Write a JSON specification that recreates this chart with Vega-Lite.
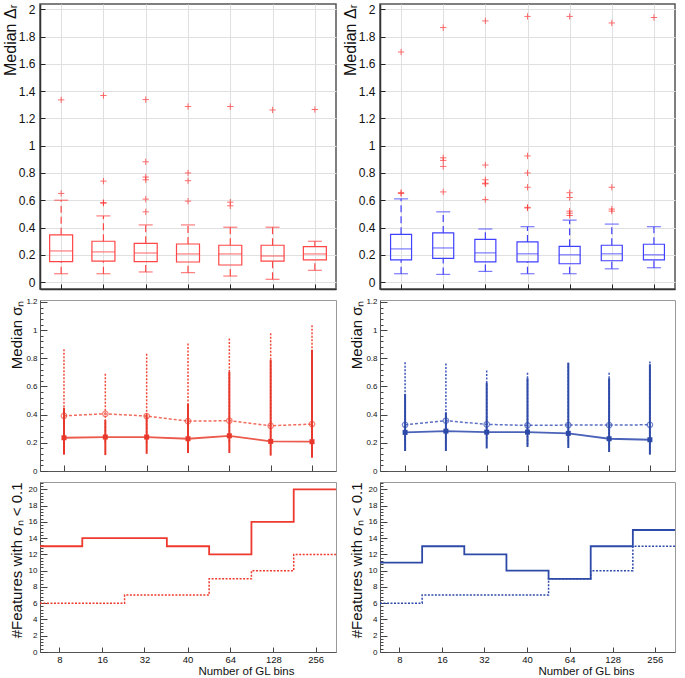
{
 "$schema": "https://vega.github.io/schema/vega-lite/v6.json",
 "padding": {"left": 1, "top": 2, "right": 0, "bottom": 0},
 "config": {"font": "Liberation Sans", "axis": {"labelFont": "Liberation Sans", "titleFont": "Liberation Sans", "labelColor": "#111", "titleColor": "#111", "titleFontWeight": "normal", "labelOverlap": false, "tickCount": 200}},
 "datasets": {
  "box": [
   {"panel": "L", "bins": "8", "lo": 0.061, "q1": 0.15, "med": 0.228, "q3": 0.346, "hi": 0.6},
   {"panel": "L", "bins": "16", "lo": 0.061, "q1": 0.154, "med": 0.221, "q3": 0.299, "hi": 0.485},
   {"panel": "L", "bins": "32", "lo": 0.074, "q1": 0.15, "med": 0.213, "q3": 0.284, "hi": 0.419},
   {"panel": "L", "bins": "40", "lo": 0.069, "q1": 0.147, "med": 0.206, "q3": 0.279, "hi": 0.419},
   {"panel": "L", "bins": "64", "lo": 0.044, "q1": 0.125, "med": 0.206, "q3": 0.27, "hi": 0.402},
   {"panel": "L", "bins": "128", "lo": 0.02, "q1": 0.154, "med": 0.191, "q3": 0.27, "hi": 0.402},
   {"panel": "L", "bins": "256", "lo": 0.086, "q1": 0.162, "med": 0.206, "q3": 0.26, "hi": 0.299},
   {"panel": "R", "bins": "8", "lo": 0.061, "q1": 0.163, "med": 0.243, "q3": 0.35, "hi": 0.61},
   {"panel": "R", "bins": "16", "lo": 0.056, "q1": 0.173, "med": 0.25, "q3": 0.36, "hi": 0.515},
   {"panel": "R", "bins": "32", "lo": 0.078, "q1": 0.148, "med": 0.214, "q3": 0.313, "hi": 0.389},
   {"panel": "R", "bins": "40", "lo": 0.061, "q1": 0.148, "med": 0.207, "q3": 0.294, "hi": 0.406},
   {"panel": "R", "bins": "64", "lo": 0.061, "q1": 0.134, "med": 0.2, "q3": 0.262, "hi": 0.454},
   {"panel": "R", "bins": "128", "lo": 0.097, "q1": 0.156, "med": 0.207, "q3": 0.27, "hi": 0.425},
   {"panel": "R", "bins": "256", "lo": 0.105, "q1": 0.163, "med": 0.2, "q3": 0.277, "hi": 0.406}
  ],
  "out": [
   {"panel": "L", "bins": "8", "v": 0.65}, {"panel": "L", "bins": "8", "v": 1.336},
   {"panel": "L", "bins": "16", "v": 1.368}, {"panel": "L", "bins": "16", "v": 0.74}, {"panel": "L", "bins": "16", "v": 0.583}, {"panel": "L", "bins": "16", "v": 0.578},
   {"panel": "L", "bins": "32", "v": 1.338}, {"panel": "L", "bins": "32", "v": 0.882}, {"panel": "L", "bins": "32", "v": 0.77}, {"panel": "L", "bins": "32", "v": 0.75}, {"panel": "L", "bins": "32", "v": 0.608}, {"panel": "L", "bins": "32", "v": 0.515},
   {"panel": "L", "bins": "40", "v": 1.287}, {"panel": "L", "bins": "40", "v": 0.8}, {"panel": "L", "bins": "40", "v": 0.743}, {"panel": "L", "bins": "40", "v": 0.593},
   {"panel": "L", "bins": "64", "v": 1.287}, {"panel": "L", "bins": "64", "v": 0.586}, {"panel": "L", "bins": "64", "v": 0.559},
   {"panel": "L", "bins": "128", "v": 1.262},
   {"panel": "L", "bins": "256", "v": 1.265},
   {"panel": "R", "bins": "8", "v": 1.687}, {"panel": "R", "bins": "8", "v": 0.656}, {"panel": "R", "bins": "8", "v": 0.649},
   {"panel": "R", "bins": "16", "v": 1.866}, {"panel": "R", "bins": "16", "v": 0.911}, {"panel": "R", "bins": "16", "v": 0.892}, {"panel": "R", "bins": "16", "v": 0.848}, {"panel": "R", "bins": "16", "v": 0.661},
   {"panel": "R", "bins": "32", "v": 1.915}, {"panel": "R", "bins": "32", "v": 0.858}, {"panel": "R", "bins": "32", "v": 0.75}, {"panel": "R", "bins": "32", "v": 0.725}, {"panel": "R", "bins": "32", "v": 0.72}, {"panel": "R", "bins": "32", "v": 0.605},
   {"panel": "R", "bins": "40", "v": 1.948}, {"panel": "R", "bins": "40", "v": 0.925}, {"panel": "R", "bins": "40", "v": 0.8}, {"panel": "R", "bins": "40", "v": 0.695}, {"panel": "R", "bins": "40", "v": 0.548}, {"panel": "R", "bins": "40", "v": 0.543},
   {"panel": "R", "bins": "64", "v": 1.948}, {"panel": "R", "bins": "64", "v": 0.655}, {"panel": "R", "bins": "64", "v": 0.62}, {"panel": "R", "bins": "64", "v": 0.52}, {"panel": "R", "bins": "64", "v": 0.505}, {"panel": "R", "bins": "64", "v": 0.488},
   {"panel": "R", "bins": "128", "v": 1.9}, {"panel": "R", "bins": "128", "v": 0.695}, {"panel": "R", "bins": "128", "v": 0.535}, {"panel": "R", "bins": "128", "v": 0.52},
   {"panel": "R", "bins": "256", "v": 1.94}
  ],
  "med": [
   {"panel": "L", "bins": "8", "series": "solid", "m": 0.236, "lo": 0.116, "hi": 0.449},
   {"panel": "L", "bins": "16", "series": "solid", "m": 0.241, "lo": 0.113, "hi": 0.361},
   {"panel": "L", "bins": "32", "series": "solid", "m": 0.241, "lo": 0.122, "hi": 0.4},
   {"panel": "L", "bins": "40", "series": "solid", "m": 0.229, "lo": 0.128, "hi": 0.475},
   {"panel": "L", "bins": "64", "series": "solid", "m": 0.25, "lo": 0.128, "hi": 0.704},
   {"panel": "L", "bins": "128", "series": "solid", "m": 0.21, "lo": 0.109, "hi": 0.789},
   {"panel": "L", "bins": "256", "series": "solid", "m": 0.208, "lo": 0.094, "hi": 0.86},
   {"panel": "L", "bins": "8", "series": "dotted", "m": 0.392, "lo": 0.18, "hi": 0.865},
   {"panel": "L", "bins": "16", "series": "dotted", "m": 0.406, "lo": 0.2, "hi": 0.69},
   {"panel": "L", "bins": "32", "series": "dotted", "m": 0.39, "lo": 0.19, "hi": 0.832},
   {"panel": "L", "bins": "40", "series": "dotted", "m": 0.354, "lo": 0.19, "hi": 0.905},
   {"panel": "L", "bins": "64", "series": "dotted", "m": 0.357, "lo": 0.2, "hi": 0.94},
   {"panel": "L", "bins": "128", "series": "dotted", "m": 0.321, "lo": 0.18, "hi": 0.978},
   {"panel": "L", "bins": "256", "series": "dotted", "m": 0.333, "lo": 0.17, "hi": 1.035},
   {"panel": "R", "bins": "8", "series": "solid", "m": 0.274, "lo": 0.142, "hi": 0.546},
   {"panel": "R", "bins": "16", "series": "solid", "m": 0.283, "lo": 0.142, "hi": 0.416},
   {"panel": "R", "bins": "32", "series": "solid", "m": 0.276, "lo": 0.16, "hi": 0.626},
   {"panel": "R", "bins": "40", "series": "solid", "m": 0.276, "lo": 0.17, "hi": 0.659},
   {"panel": "R", "bins": "64", "series": "solid", "m": 0.267, "lo": 0.163, "hi": 0.768},
   {"panel": "R", "bins": "128", "series": "solid", "m": 0.229, "lo": 0.135, "hi": 0.659},
   {"panel": "R", "bins": "256", "series": "solid", "m": 0.222, "lo": 0.116, "hi": 0.758},
   {"panel": "R", "bins": "8", "series": "dotted", "m": 0.328, "lo": 0.19, "hi": 0.772},
   {"panel": "R", "bins": "16", "series": "dotted", "m": 0.357, "lo": 0.2, "hi": 0.763},
   {"panel": "R", "bins": "32", "series": "dotted", "m": 0.331, "lo": 0.215, "hi": 0.713},
   {"panel": "R", "bins": "40", "series": "dotted", "m": 0.324, "lo": 0.175, "hi": 0.697},
   {"panel": "R", "bins": "64", "series": "dotted", "m": 0.326, "lo": 0.19, "hi": 0.768},
   {"panel": "R", "bins": "128", "series": "dotted", "m": 0.326, "lo": 0.18, "hi": 0.697},
   {"panel": "R", "bins": "256", "series": "dotted", "m": 0.328, "lo": 0.19, "hi": 0.777}
  ],
  "hist": [
   {"panel": "L", "series": "solid", "edge": 0, "n": 13}, {"panel": "L", "series": "solid", "edge": 1, "n": 14}, {"panel": "L", "series": "solid", "edge": 2, "n": 14}, {"panel": "L", "series": "solid", "edge": 3, "n": 13}, {"panel": "L", "series": "solid", "edge": 4, "n": 12}, {"panel": "L", "series": "solid", "edge": 5, "n": 16}, {"panel": "L", "series": "solid", "edge": 6, "n": 20}, {"panel": "L", "series": "solid", "edge": 7, "n": 20},
   {"panel": "L", "series": "dotted", "edge": 0, "n": 6}, {"panel": "L", "series": "dotted", "edge": 1, "n": 6}, {"panel": "L", "series": "dotted", "edge": 2, "n": 7}, {"panel": "L", "series": "dotted", "edge": 3, "n": 7}, {"panel": "L", "series": "dotted", "edge": 4, "n": 9}, {"panel": "L", "series": "dotted", "edge": 5, "n": 10}, {"panel": "L", "series": "dotted", "edge": 6, "n": 12}, {"panel": "L", "series": "dotted", "edge": 7, "n": 12},
   {"panel": "R", "series": "solid", "edge": 0, "n": 11}, {"panel": "R", "series": "solid", "edge": 1, "n": 13}, {"panel": "R", "series": "solid", "edge": 2, "n": 12}, {"panel": "R", "series": "solid", "edge": 3, "n": 10}, {"panel": "R", "series": "solid", "edge": 4, "n": 9}, {"panel": "R", "series": "solid", "edge": 5, "n": 13}, {"panel": "R", "series": "solid", "edge": 6, "n": 15}, {"panel": "R", "series": "solid", "edge": 7, "n": 15},
   {"panel": "R", "series": "dotted", "edge": 0, "n": 6}, {"panel": "R", "series": "dotted", "edge": 1, "n": 7}, {"panel": "R", "series": "dotted", "edge": 2, "n": 7}, {"panel": "R", "series": "dotted", "edge": 3, "n": 7}, {"panel": "R", "series": "dotted", "edge": 4, "n": 9}, {"panel": "R", "series": "dotted", "edge": 5, "n": 10}, {"panel": "R", "series": "dotted", "edge": 6, "n": 13}, {"panel": "R", "series": "dotted", "edge": 7, "n": 13}
  ]
 },
 "columns": 2,
 "spacing": {"row": 11, "column": 44},
 "bounds": "flush",
 "concat": [
  {
   "width": 296, "height": 285,
   "view": {"stroke": "#555", "strokeWidth": 1.5},
   "layer": [
    {"data": {"name": "box"}, "transform": [{"filter": "datum.panel == 'L'"}],
     "mark": {"type": "rule", "color": "#ff4545", "strokeDash": [7, 4], "strokeWidth": 1.2},
     "encoding": {
      "x": {"field": "bins", "type": "ordinal", "scale": {"type": "point", "padding": 0.5, "domain": ["8", "16", "32", "40", "64", "128", "256"]},
            "axis": {"title": null, "labels": false, "grid": true, "gridColor": "#e0e0e0", "tickSize": -5, "tickColor": "#222", "domainColor": "#333", "domainWidth": 1.5}},
      "y": {"field": "q3", "type": "quantitative", "scale": {"domain": [-0.051, 2.039], "nice": false, "zero": false},
            "axis": {"title": "Median Δᵣ", "values": [0, 0.2, 0.4, 0.6, 0.8, 1, 1.2, 1.4, 1.6, 1.8, 2], "tickCount": 200, "labelExpr": "format(datum.value, '~g')", "labelOverlap": false, "grid": true, "gridColor": "#e0e0e0", "tickSize": -5, "tickColor": "#222", "labelPadding": 10, "labelFontSize": 12, "titleFontSize": 16, "titleAnchor": "end", "titleAngle": -90, "titleX": -30, "titleY": 0, "titleAlign": "right", "titleBaseline": "middle", "domainColor": "#333", "domainWidth": 1.5}},
      "y2": {"field": "hi"}}},
    {"data": {"name": "box"}, "transform": [{"filter": "datum.panel == 'L'"}],
     "mark": {"type": "rule", "color": "#ff4545", "strokeDash": [7, 4], "strokeWidth": 1.2},
     "encoding": {"x": {"field": "bins", "type": "ordinal"}, "y": {"field": "lo", "type": "quantitative"}, "y2": {"field": "q1"}}},
    {"data": {"name": "box"}, "transform": [{"filter": "datum.panel == 'L'"}],
     "mark": {"type": "bar", "filled": false, "color": "#ff4545", "width": 23, "strokeWidth": 1.2},
     "encoding": {"x": {"field": "bins", "type": "ordinal"}, "y": {"field": "q1", "type": "quantitative"}, "y2": {"field": "q3"}}},
    {"data": {"name": "box"}, "transform": [{"filter": "datum.panel == 'L'"}],
     "mark": {"type": "tick", "color": "#ff4545", "size": 23, "thickness": 1.2},
     "encoding": {"x": {"field": "bins", "type": "ordinal"}, "y": {"field": "med", "type": "quantitative"}}},
    {"data": {"name": "box"}, "transform": [{"filter": "datum.panel == 'L'"}],
     "mark": {"type": "tick", "color": "#ff4545", "size": 14, "thickness": 1.2},
     "encoding": {"x": {"field": "bins", "type": "ordinal"}, "y": {"field": "hi", "type": "quantitative"}}},
    {"data": {"name": "box"}, "transform": [{"filter": "datum.panel == 'L'"}],
     "mark": {"type": "tick", "color": "#ff4545", "size": 14, "thickness": 1.2},
     "encoding": {"x": {"field": "bins", "type": "ordinal"}, "y": {"field": "lo", "type": "quantitative"}}},
    {"data": {"name": "out"}, "transform": [{"filter": "datum.panel == 'L'"}],
     "mark": {"type": "point", "shape": "M-1,0H1M0,-1V1", "filled": false, "color": "#ff3030", "size": 40, "strokeWidth": 1},
     "encoding": {"x": {"field": "bins", "type": "ordinal"}, "y": {"field": "v", "type": "quantitative"}}}
   ]
  },
  {
   "width": 295, "height": 285,
   "view": {"stroke": "#555", "strokeWidth": 1.5},
   "layer": [
    {"data": {"name": "box"}, "transform": [{"filter": "datum.panel == 'R'"}],
     "mark": {"type": "rule", "color": "#4040ff", "strokeDash": [7, 4], "strokeWidth": 1.2},
     "encoding": {
      "x": {"field": "bins", "type": "ordinal", "scale": {"type": "point", "padding": 0.5, "domain": ["8", "16", "32", "40", "64", "128", "256"]},
            "axis": {"title": null, "labels": false, "grid": true, "gridColor": "#e0e0e0", "tickSize": -5, "tickColor": "#222", "domainColor": "#333", "domainWidth": 1.5}},
      "y": {"field": "q3", "type": "quantitative", "scale": {"domain": [-0.051, 2.039], "nice": false, "zero": false},
            "axis": {"title": "Median Δᵣ", "values": [0, 0.2, 0.4, 0.6, 0.8, 1, 1.2, 1.4, 1.6, 1.8, 2], "tickCount": 200, "labelExpr": "format(datum.value, '~g')", "labelOverlap": false, "grid": true, "gridColor": "#e0e0e0", "tickSize": -5, "tickColor": "#222", "labelPadding": 10, "labelFontSize": 12, "titleFontSize": 16, "titleAnchor": "end", "titleAngle": -90, "titleX": -30, "titleY": 0, "titleAlign": "right", "titleBaseline": "middle", "domainColor": "#333", "domainWidth": 1.5}},
      "y2": {"field": "hi"}}},
    {"data": {"name": "box"}, "transform": [{"filter": "datum.panel == 'R'"}],
     "mark": {"type": "rule", "color": "#4040ff", "strokeDash": [7, 4], "strokeWidth": 1.2},
     "encoding": {"x": {"field": "bins", "type": "ordinal"}, "y": {"field": "lo", "type": "quantitative"}, "y2": {"field": "q1"}}},
    {"data": {"name": "box"}, "transform": [{"filter": "datum.panel == 'R'"}],
     "mark": {"type": "bar", "filled": false, "color": "#4040ff", "width": 21, "strokeWidth": 1.2},
     "encoding": {"x": {"field": "bins", "type": "ordinal"}, "y": {"field": "q1", "type": "quantitative"}, "y2": {"field": "q3"}}},
    {"data": {"name": "box"}, "transform": [{"filter": "datum.panel == 'R'"}],
     "mark": {"type": "tick", "color": "#4040ff", "size": 21, "thickness": 1.2},
     "encoding": {"x": {"field": "bins", "type": "ordinal"}, "y": {"field": "med", "type": "quantitative"}}},
    {"data": {"name": "box"}, "transform": [{"filter": "datum.panel == 'R'"}],
     "mark": {"type": "tick", "color": "#4040ff", "size": 14, "thickness": 1.2},
     "encoding": {"x": {"field": "bins", "type": "ordinal"}, "y": {"field": "hi", "type": "quantitative"}}},
    {"data": {"name": "box"}, "transform": [{"filter": "datum.panel == 'R'"}],
     "mark": {"type": "tick", "color": "#4040ff", "size": 14, "thickness": 1.2},
     "encoding": {"x": {"field": "bins", "type": "ordinal"}, "y": {"field": "lo", "type": "quantitative"}}},
    {"data": {"name": "out"}, "transform": [{"filter": "datum.panel == 'R'"}],
     "mark": {"type": "point", "shape": "M-1,0H1M0,-1V1", "filled": false, "color": "#ff3030", "size": 40, "strokeWidth": 1},
     "encoding": {"x": {"field": "bins", "type": "ordinal"}, "y": {"field": "v", "type": "quantitative"}}}
   ]
  },
  {
   "width": 296, "height": 171,
   "view": {"stroke": "#999", "strokeWidth": 1},
   "layer": [
    {"data": {"name": "med"}, "transform": [{"filter": "datum.panel == 'L' && datum.series == 'dotted'"}],
     "mark": {"type": "rule", "color": "#f04a3a", "strokeDash": [2, 1.5], "strokeWidth": 1.5},
     "encoding": {
      "x": {"field": "bins", "type": "ordinal", "scale": {"type": "point", "padding": 0.58, "domain": ["8", "16", "32", "40", "64", "128", "256"]},
            "axis": {"title": null, "labels": false, "grid": false, "tickSize": -6, "tickColor": "#444", "domainColor": "#555"}},
      "y": {"field": "hi", "type": "quantitative", "scale": {"domain": [0, 1.214], "nice": false},
            "axis": {"title": "Median σₙ", "values": [0, 0.04, 0.08, 0.12, 0.16, 0.2, 0.24, 0.28, 0.32, 0.36, 0.4, 0.44, 0.48, 0.52, 0.56, 0.6, 0.64, 0.68, 0.72, 0.76, 0.8, 0.84, 0.88, 0.92, 0.96, 1, 1.04, 1.08, 1.12, 1.16, 1.2], "tickCount": 200,
                     "labelExpr": "abs(datum.value*5 - round(datum.value*5)) < 0.01 ? format(datum.value, '~g') : ''", "labelOverlap": false,
                     "tickSize": {"condition": {"test": "abs(datum.value*5 - round(datum.value*5)) < 0.01", "value": -7}, "value": -3},
                     "tickColor": "#444", "labelPadding": 10, "labelFontSize": 8, "titleFontSize": 15, "titleAnchor": "end", "titleAngle": -90, "titleX": -24, "titleY": 0, "titleAlign": "right", "titleBaseline": "middle", "domainColor": "#555", "grid": false}},
      "y2": {"field": "lo"}}},
    {"data": {"name": "med"}, "transform": [{"filter": "datum.panel == 'L' && datum.series == 'dotted'"}],
     "mark": {"type": "line", "color": "#f26a5a", "strokeDash": [3, 2], "strokeWidth": 1.5},
     "encoding": {"x": {"field": "bins", "type": "ordinal"}, "y": {"field": "m", "type": "quantitative"}}},
    {"data": {"name": "med"}, "transform": [{"filter": "datum.panel == 'L' && datum.series == 'dotted'"}],
     "mark": {"type": "point", "shape": "circle", "filled": false, "color": "#f04a3a", "size": 30, "strokeWidth": 1.2},
     "encoding": {"x": {"field": "bins", "type": "ordinal"}, "y": {"field": "m", "type": "quantitative"}}},
    {"data": {"name": "med"}, "transform": [{"filter": "datum.panel == 'L' && datum.series == 'solid'"}],
     "mark": {"type": "rule", "color": "#e8382c", "strokeWidth": 2},
     "encoding": {"x": {"field": "bins", "type": "ordinal"}, "y": {"field": "lo", "type": "quantitative"}, "y2": {"field": "hi"}}},
    {"data": {"name": "med"}, "transform": [{"filter": "datum.panel == 'L' && datum.series == 'solid'"}],
     "mark": {"type": "line", "color": "#ec5a4c", "strokeWidth": 1.8},
     "encoding": {"x": {"field": "bins", "type": "ordinal"}, "y": {"field": "m", "type": "quantitative"}}},
    {"data": {"name": "med"}, "transform": [{"filter": "datum.panel == 'L' && datum.series == 'solid'"}],
     "mark": {"type": "point", "shape": "square", "filled": true, "color": "#e8382c", "size": 25, "opacity": 1},
     "encoding": {"x": {"field": "bins", "type": "ordinal"}, "y": {"field": "m", "type": "quantitative"}}}
   ]
  },
  {
   "width": 295, "height": 171,
   "view": {"stroke": "#999", "strokeWidth": 1},
   "layer": [
    {"data": {"name": "med"}, "transform": [{"filter": "datum.panel == 'R' && datum.series == 'dotted'"}],
     "mark": {"type": "rule", "color": "#3a55b8", "strokeDash": [2, 1.5], "strokeWidth": 1.5},
     "encoding": {
      "x": {"field": "bins", "type": "ordinal", "scale": {"type": "point", "padding": 0.615, "domain": ["8", "16", "32", "40", "64", "128", "256"]},
            "axis": {"title": null, "labels": false, "grid": false, "tickSize": -6, "tickColor": "#444", "domainColor": "#555"}},
      "y": {"field": "hi", "type": "quantitative", "scale": {"domain": [0, 1.214], "nice": false},
            "axis": {"title": "Median σₙ", "values": [0, 0.04, 0.08, 0.12, 0.16, 0.2, 0.24, 0.28, 0.32, 0.36, 0.4, 0.44, 0.48, 0.52, 0.56, 0.6, 0.64, 0.68, 0.72, 0.76, 0.8, 0.84, 0.88, 0.92, 0.96, 1, 1.04, 1.08, 1.12, 1.16, 1.2], "tickCount": 200,
                     "labelExpr": "abs(datum.value*5 - round(datum.value*5)) < 0.01 ? format(datum.value, '~g') : ''", "labelOverlap": false,
                     "tickSize": {"condition": {"test": "abs(datum.value*5 - round(datum.value*5)) < 0.01", "value": -7}, "value": -3},
                     "tickColor": "#444", "labelPadding": 10, "labelFontSize": 8, "titleFontSize": 15, "titleAnchor": "end", "titleAngle": -90, "titleX": -24, "titleY": 0, "titleAlign": "right", "titleBaseline": "middle", "domainColor": "#555", "grid": false}},
      "y2": {"field": "lo"}}},
    {"data": {"name": "med"}, "transform": [{"filter": "datum.panel == 'R' && datum.series == 'dotted'"}],
     "mark": {"type": "line", "color": "#5a70c4", "strokeDash": [3, 2], "strokeWidth": 1.5},
     "encoding": {"x": {"field": "bins", "type": "ordinal"}, "y": {"field": "m", "type": "quantitative"}}},
    {"data": {"name": "med"}, "transform": [{"filter": "datum.panel == 'R' && datum.series == 'dotted'"}],
     "mark": {"type": "point", "shape": "circle", "filled": false, "color": "#3a55b8", "size": 30, "strokeWidth": 1.2},
     "encoding": {"x": {"field": "bins", "type": "ordinal"}, "y": {"field": "m", "type": "quantitative"}}},
    {"data": {"name": "med"}, "transform": [{"filter": "datum.panel == 'R' && datum.series == 'solid'"}],
     "mark": {"type": "rule", "color": "#2e4aa8", "strokeWidth": 2},
     "encoding": {"x": {"field": "bins", "type": "ordinal"}, "y": {"field": "lo", "type": "quantitative"}, "y2": {"field": "hi"}}},
    {"data": {"name": "med"}, "transform": [{"filter": "datum.panel == 'R' && datum.series == 'solid'"}],
     "mark": {"type": "line", "color": "#4a62b8", "strokeWidth": 1.8},
     "encoding": {"x": {"field": "bins", "type": "ordinal"}, "y": {"field": "m", "type": "quantitative"}}},
    {"data": {"name": "med"}, "transform": [{"filter": "datum.panel == 'R' && datum.series == 'solid'"}],
     "mark": {"type": "point", "shape": "square", "filled": true, "color": "#2e4aa8", "size": 25, "opacity": 1},
     "encoding": {"x": {"field": "bins", "type": "ordinal"}, "y": {"field": "m", "type": "quantitative"}}}
   ]
  },
  {
   "width": 296, "height": 170,
   "view": {"stroke": "#999", "strokeWidth": 1},
   "layer": [
    {"data": {"name": "hist"}, "transform": [{"filter": "datum.panel == 'L' && datum.series == 'dotted'"}],
     "mark": {"type": "line", "interpolate": "step-after", "color": "#ee3a2e", "strokeDash": [2, 1.5], "strokeWidth": 1.5},
     "encoding": {
      "x": {"field": "edge", "type": "quantitative", "scale": {"domain": [0, 7], "nice": false},
            "axis": {"title": "Number of GL bins", "values": [0.46, 1.47, 2.47, 3.49, 4.5, 5.52, 6.52], "tickCount": 200, "labelExpr": "['8','16','32','40','64','128','256'][floor(datum.value)]", "labelOverlap": false, "tickSize": -5, "tickColor": "#444", "labelPadding": 7, "labelFontSize": 9.5, "titleFontSize": 11.5, "titleAlign": "right", "titleX": 254, "titleY": 19, "titleBaseline": "middle", "domainColor": "#555", "grid": false}},
      "y": {"field": "n", "type": "quantitative", "scale": {"domain": [0, 20.9], "nice": false},
            "axis": {"title": "#Features with σₙ < 0.1", "values": [0, 0.4, 0.8, 1.2, 1.6, 2, 2.4, 2.8, 3.2, 3.6, 4, 4.4, 4.8, 5.2, 5.6, 6, 6.4, 6.8, 7.2, 7.6, 8, 8.4, 8.8, 9.2, 9.6, 10, 10.4, 10.8, 11.2, 11.6, 12, 12.4, 12.8, 13.2, 13.6, 14, 14.4, 14.8, 15.2, 15.6, 16, 16.4, 16.8, 17.2, 17.6, 18, 18.4, 18.8, 19.2, 19.6, 20, 20.4, 20.8], "tickCount": 200,
                     "labelExpr": "abs(datum.value/2 - round(datum.value/2)) < 0.01 ? format(datum.value, '~g') : ''", "labelOverlap": false,
                     "tickSize": {"condition": {"test": "abs(datum.value/2 - round(datum.value/2)) < 0.01", "value": -7}, "value": -3},
                     "tickColor": "#444", "labelPadding": 10, "labelFontSize": 8, "titleFontSize": 15, "titleAnchor": "end", "titleAngle": -90, "titleX": -24, "titleY": 0, "titleAlign": "right", "titleBaseline": "middle", "domainColor": "#555", "grid": false}}}},
    {"data": {"name": "hist"}, "transform": [{"filter": "datum.panel == 'L' && datum.series == 'solid'"}],
     "mark": {"type": "line", "interpolate": "step-after", "color": "#ee3a2e", "strokeWidth": 1.8},
     "encoding": {"x": {"field": "edge", "type": "quantitative"}, "y": {"field": "n", "type": "quantitative"}}}
   ]
  },
  {
   "width": 295, "height": 170,
   "view": {"stroke": "#999", "strokeWidth": 1},
   "layer": [
    {"data": {"name": "hist"}, "transform": [{"filter": "datum.panel == 'R' && datum.series == 'dotted'"}],
     "mark": {"type": "line", "interpolate": "step-after", "color": "#2e4aa8", "strokeDash": [2, 1.5], "strokeWidth": 1.5},
     "encoding": {
      "x": {"field": "edge", "type": "quantitative", "scale": {"domain": [0, 7], "nice": false},
            "axis": {"title": "Number of GL bins", "values": [0.46, 1.47, 2.47, 3.49, 4.5, 5.52, 6.52], "tickCount": 200, "labelExpr": "['8','16','32','40','64','128','256'][floor(datum.value)]", "labelOverlap": false, "tickSize": -5, "tickColor": "#444", "labelPadding": 7, "labelFontSize": 9.5, "titleFontSize": 11.5, "titleAlign": "right", "titleX": 254, "titleY": 19, "titleBaseline": "middle", "domainColor": "#555", "grid": false}},
      "y": {"field": "n", "type": "quantitative", "scale": {"domain": [0, 20.9], "nice": false},
            "axis": {"title": "#Features with σₙ < 0.1", "values": [0, 0.4, 0.8, 1.2, 1.6, 2, 2.4, 2.8, 3.2, 3.6, 4, 4.4, 4.8, 5.2, 5.6, 6, 6.4, 6.8, 7.2, 7.6, 8, 8.4, 8.8, 9.2, 9.6, 10, 10.4, 10.8, 11.2, 11.6, 12, 12.4, 12.8, 13.2, 13.6, 14, 14.4, 14.8, 15.2, 15.6, 16, 16.4, 16.8, 17.2, 17.6, 18, 18.4, 18.8, 19.2, 19.6, 20, 20.4, 20.8], "tickCount": 200,
                     "labelExpr": "abs(datum.value/2 - round(datum.value/2)) < 0.01 ? format(datum.value, '~g') : ''", "labelOverlap": false,
                     "tickSize": {"condition": {"test": "abs(datum.value/2 - round(datum.value/2)) < 0.01", "value": -7}, "value": -3},
                     "tickColor": "#444", "labelPadding": 10, "labelFontSize": 8, "titleFontSize": 15, "titleAnchor": "end", "titleAngle": -90, "titleX": -24, "titleY": 0, "titleAlign": "right", "titleBaseline": "middle", "domainColor": "#555", "grid": false}}}},
    {"data": {"name": "hist"}, "transform": [{"filter": "datum.panel == 'R' && datum.series == 'solid'"}],
     "mark": {"type": "line", "interpolate": "step-after", "color": "#2e4aa8", "strokeWidth": 1.8},
     "encoding": {"x": {"field": "edge", "type": "quantitative"}, "y": {"field": "n", "type": "quantitative"}}}
   ]
  }
 ]
}
